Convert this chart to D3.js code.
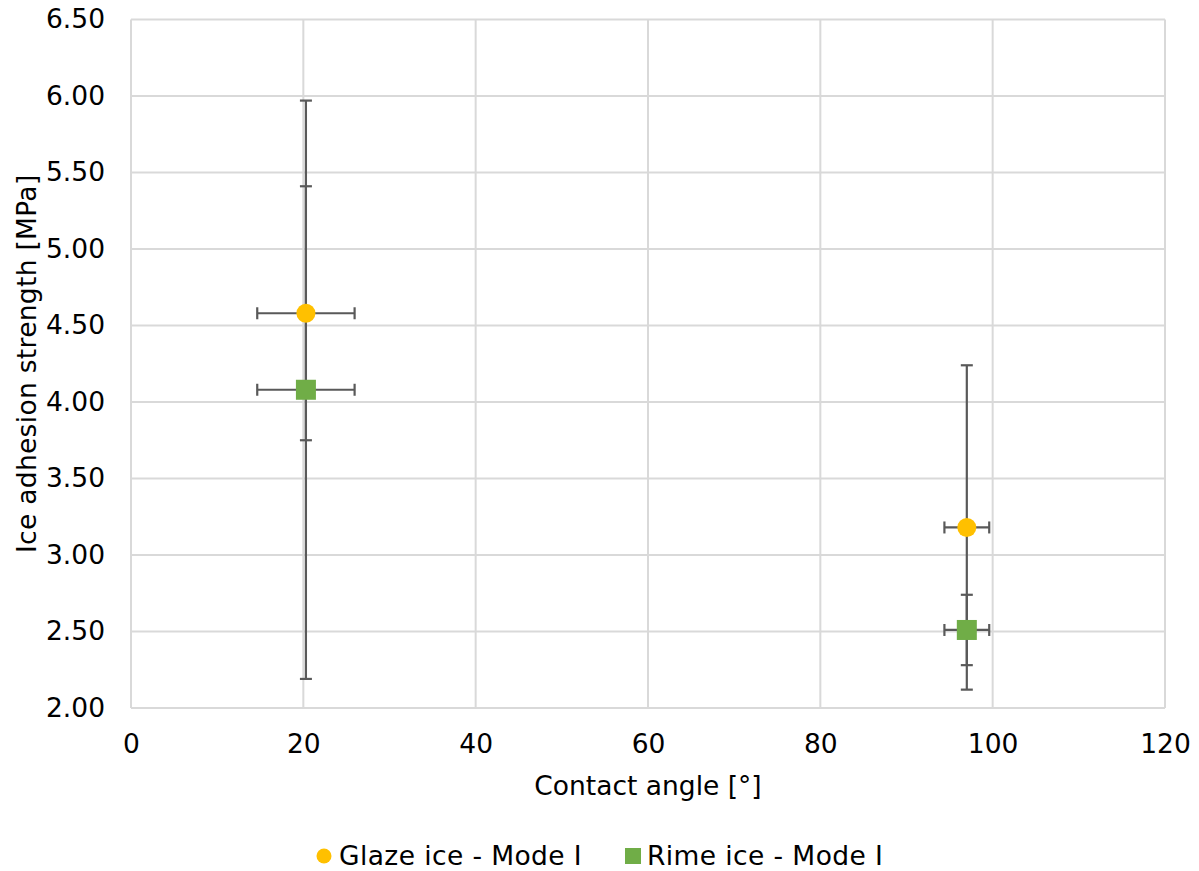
<!DOCTYPE html>
<html>
<head>
<meta charset="utf-8">
<script src="https://cdn.jsdelivr.net/npm/d3@7"></script>
<style>
  html, body { margin: 0; padding: 0; background: #ffffff; }
  svg { display: block; font-family: "DejaVu Sans", Verdana, sans-serif; }
</style>
</head>
<body>
<svg id="chart" width="1199" height="871"></svg>
<script>
// Contact angle [°] for each surface
const contactAngle = [20.3, 97.0];
const contactAngleErr = [5.65, 2.6];

// Ice adhesion strength [MPa] and symmetric error
const glazeStrength = [4.58, 3.18];
const glazeErr = [0.83, 1.06];
const rimeStrength = [4.08, 2.51];
const rimeErr = [1.89, 0.23];

const xTicks = [0, 20, 40, 60, 80, 100, 120];
const yTicks = [2.0, 2.5, 3.0, 3.5, 4.0, 4.5, 5.0, 5.5, 6.0, 6.5];

const seriesNames = ["Glaze ice - Mode I", "Rime ice - Mode I"];
const seriesColors = ["#FFC000", "#70AD47"];

const svg = d3.select("#chart");
const margin = { left: 131, right: 34, top: 19.5, bottom: 163 };
const W = 1199, H = 871;
const fontSize = 26.5;

const x = d3.scaleLinear().domain([0, 120]).range([margin.left, W - margin.right]);
const y = d3.scaleLinear().domain([2.0, 6.5]).range([H - margin.bottom, margin.top]);

const gridColor = "#d9d9d9";
const textColor = "#000000";
const errColor = "#595959";

// gridlines
const grid = svg.append("g");
grid.selectAll(".hg").data(yTicks).join("line")
  .attr("x1", x(0)).attr("x2", x(120))
  .attr("y1", d => y(d)).attr("y2", d => y(d))
  .attr("stroke", gridColor).attr("stroke-width", 2);
grid.selectAll(".vg").data(xTicks).join("line")
  .attr("y1", y(2.0)).attr("y2", y(6.5))
  .attr("x1", d => x(d)).attr("x2", d => x(d))
  .attr("stroke", gridColor).attr("stroke-width", 2);

// axes (labels only; lines are the gridlines)
const xAxis = svg.append("g").attr("transform", `translate(0,${y(2.0)})`)
  .call(d3.axisBottom(x).tickValues(xTicks).tickSize(0).tickPadding(0).tickFormat(d3.format("d")));
xAxis.selectAll("text").attr("dy", null).attr("y", 45);
const yAxis = svg.append("g").attr("transform", `translate(${x(0)},0)`)
  .call(d3.axisLeft(y).tickValues(yTicks).tickSize(0).tickPadding(26).tickFormat(d3.format(".2f")));
[xAxis, yAxis].forEach(a => {
  a.select(".domain").remove();
  a.selectAll("text").attr("font-size", fontSize).attr("fill", textColor)
    .attr("font-family", "'DejaVu Sans', Verdana, sans-serif");
});

// axis titles
svg.append("text")
  .attr("x", (x(0) + x(120)) / 2).attr("y", 795)
  .attr("text-anchor", "middle").attr("font-size", fontSize).attr("fill", textColor)
  .text("Contact angle [°]");
svg.append("text")
  .attr("transform", `translate(36,${(y(2.0) + y(6.5)) / 2}) rotate(-90)`)
  .attr("text-anchor", "middle").attr("font-size", fontSize).attr("fill", textColor)
  .attr("letter-spacing", 0.3)
  .text("Ice adhesion strength [MPa]");

// error bars
const cap = 6;
function errorBars(vals, errs) {
  const g = svg.append("g").attr("stroke", errColor).attr("stroke-width", 2.2).attr("fill", "none");
  const pts = contactAngle.map((cx, i) => ({ cx, cxe: contactAngleErr[i], v: vals[i], ve: errs[i] }));
  pts.forEach(p => {
    // vertical
    g.append("line").attr("x1", x(p.cx)).attr("x2", x(p.cx))
      .attr("y1", y(p.v - p.ve)).attr("y2", y(p.v + p.ve));
    [p.v - p.ve, p.v + p.ve].forEach(e => {
      g.append("line").attr("x1", x(p.cx) - cap).attr("x2", x(p.cx) + cap)
        .attr("y1", y(e)).attr("y2", y(e));
    });
    // horizontal
    g.append("line").attr("y1", y(p.v)).attr("y2", y(p.v))
      .attr("x1", x(p.cx - p.cxe)).attr("x2", x(p.cx + p.cxe));
    [p.cx - p.cxe, p.cx + p.cxe].forEach(e => {
      g.append("line").attr("y1", y(p.v) - cap).attr("y2", y(p.v) + cap)
        .attr("x1", x(e)).attr("x2", x(e));
    });
  });
}
errorBars(glazeStrength, glazeErr);
errorBars(rimeStrength, rimeErr);

// markers
svg.append("g").selectAll("circle").data(glazeStrength).join("circle")
  .attr("cx", (d, i) => x(contactAngle[i])).attr("cy", d => y(d))
  .attr("r", 9.5).attr("fill", seriesColors[0]);
const sq = 20;
svg.append("g").selectAll("rect").data(rimeStrength).join("rect")
  .attr("x", (d, i) => x(contactAngle[i]) - sq / 2).attr("y", d => y(d) - sq / 2)
  .attr("width", sq).attr("height", sq).attr("fill", seriesColors[1]);

// legend
const legend = svg.append("g").attr("font-size", fontSize).attr("fill", textColor).attr("letter-spacing", 0.4);
legend.append("circle").attr("cx", 324).attr("cy", 856).attr("r", 7.5).attr("fill", seriesColors[0]);
legend.append("text").attr("x", 339).attr("y", 865).text(seriesNames[0]);
legend.append("rect").attr("x", 625).attr("y", 848).attr("width", 16).attr("height", 16).attr("fill", seriesColors[1]);
legend.append("text").attr("x", 647).attr("y", 865).text(seriesNames[1]);
</script>
</body>
</html>
